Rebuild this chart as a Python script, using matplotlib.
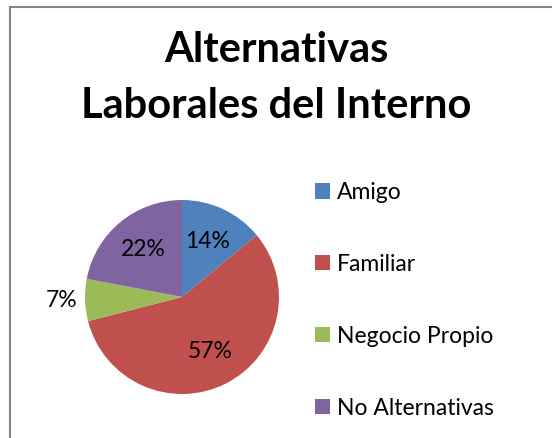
import numpy as np
import matplotlib.pyplot as plt
from matplotlib.patches import Rectangle

# Data
labels = ['Amigo', 'Familiar', 'Negocio Propio', 'No Alternativas']
values = [14, 57, 7, 22]
colors = ['#4F81BD', '#C0504D', '#9BBB59', '#8064A2']
title = 'Alternativas\nLaborales del Interno'

plt.rcParams['font.family'] = ['Lato', 'DejaVu Sans']

W, H = 552, 438
fig = plt.figure(figsize=(W / 100, H / 100), dpi=100)

# chart border (Excel style, clipped at right/bottom)
fig.patches.append(Rectangle((10 / W, -0.1), 1.2, 1 - 7 / H + 0.1,
                             transform=fig.transFigure, fill=False,
                             edgecolor='#868686', linewidth=1.5))

fig.text(276 / W, 1 - 78 / H, title, ha='center', va='center',
         fontsize=30, fontweight='bold', linespacing=1.58)

# pie axes
cx, cy, r = 182, 297, 97
ax = fig.add_axes([(cx - r) / W, (H - cy - r) / H, 2 * r / W, 2 * r / H])
wedges, texts, autotexts = ax.pie(values, colors=colors, startangle=90,
                                  counterclock=False, autopct='%1.0f%%',
                                  pctdistance=0.63, radius=1,
                                  textprops={'fontsize': 16.5, 'color': 'black'})
ax.set_xlim(-1, 1)
ax.set_ylim(-1, 1)

# small slice label goes outside
w = wedges[2]
ang = np.deg2rad((w.theta1 + w.theta2) / 2)
autotexts[2].set_position((1.24 * np.cos(ang), 1.24 * np.sin(ang)))

fig.legend(wedges, labels, loc='upper left',
           bbox_to_anchor=(315 / W, 1 - 182 / H),
           frameon=False, fontsize=16.5, labelspacing=2.22,
           borderpad=0, borderaxespad=0,
           handlelength=0.65, handleheight=0.65, handletextpad=0.3)

fig.savefig('out.png', dpi=100)
